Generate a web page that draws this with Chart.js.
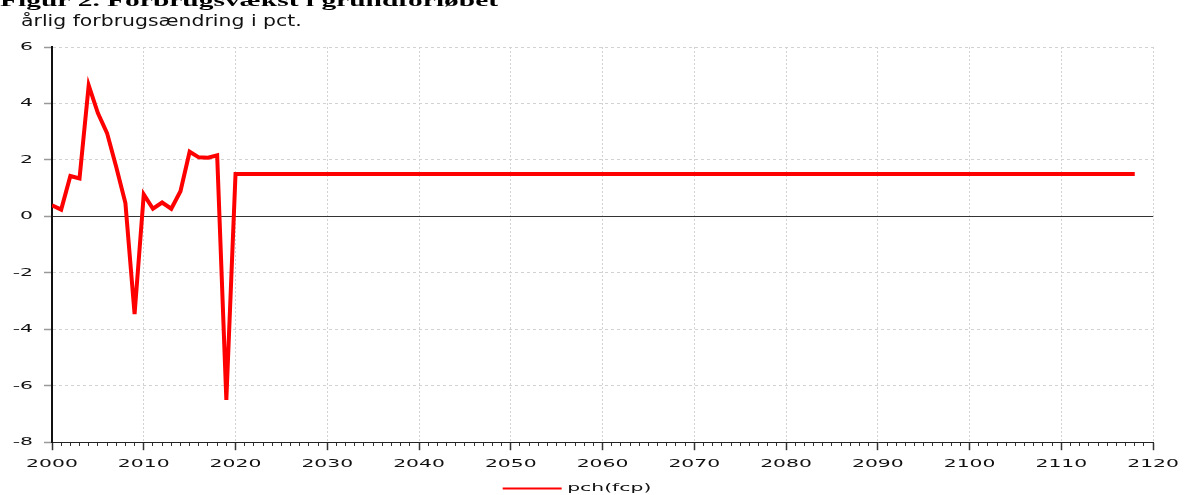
<!DOCTYPE html>
<html><head><meta charset="utf-8">
<script src="https://cdn.jsdelivr.net/npm/chart.js@4.4.1/dist/chart.umd.min.js"></script>
<style>html,body{margin:0;padding:0;background:#fff;overflow:hidden}canvas{display:block}</style>
</head><body>
<canvas id="c" width="1186" height="495" style="width:1186px;height:495px"></canvas>
<script>
const TITLE = 'Figur 2. Forbrugsvækst i grundforløbet';
const SUBTITLE = 'årlig forbrugsændring i pct.';
const SERIES_LABEL = 'pch(fcp)';

const years = [
  2000,2001,2002,2003,2004,2005,2006,2007,2008,2009,
  2010,2011,2012,2013,2014,2015,2016,2017,2018,2019,
  2020,2021,2022,2023,2024,2025,2026,2027,2028,2029,
  2030,2031,2032,2033,2034,2035,2036,2037,2038,2039,
  2040,2041,2042,2043,2044,2045,2046,2047,2048,2049,
  2050,2051,2052,2053,2054,2055,2056,2057,2058,2059,
  2060,2061,2062,2063,2064,2065,2066,2067,2068,2069,
  2070,2071,2072,2073,2074,2075,2076,2077,2078,2079,
  2080,2081,2082,2083,2084,2085,2086,2087,2088,2089,
  2090,2091,2092,2093,2094,2095,2096,2097,2098,2099,
  2100,2101,2102,2103,2104,2105,2106,2107,2108,2109,
  2110,2111,2112,2113,2114,2115,2116,2117,2118
];

const values = [
  0.39,0.24,1.43,1.34,4.64,3.66,2.95,1.75,0.47,-3.46,
  0.78,0.27,0.49,0.27,0.89,2.29,2.09,2.08,2.16,-6.5,
  1.5,
  1.5,1.5,1.5,1.5,1.5,1.5,1.5,1.5,1.5,1.5,1.5,1.5,1.5,1.5,
  1.5,1.5,1.5,1.5,1.5,1.5,1.5,1.5,1.5,1.5,1.5,1.5,1.5,1.5,
  1.5,1.5,1.5,1.5,1.5,1.5,1.5,1.5,1.5,1.5,1.5,1.5,1.5,1.5,
  1.5,1.5,1.5,1.5,1.5,1.5,1.5,1.5,1.5,1.5,1.5,1.5,1.5,1.5,
  1.5,1.5,1.5,1.5,1.5,1.5,1.5,1.5,1.5,1.5,1.5,1.5,1.5,1.5,
  1.5,1.5,1.5,1.5,1.5,1.5,1.5,1.5,1.5,1.5,1.5,1.5,1.5,1.5,
  1.5,1.5,1.5,1.5,1.5,1.5,1.5,1.5,1.5,1.5,1.5,1.5,1.5,1.5
];

const xTicks = [2000,2010,2020,2030,2040,2050,2060,2070,2080,2090,2100,2110,2120];
const yTicks = [-8,-6,-4,-2,0,2,4,6];

const canvas = document.getElementById('c');
const ctx = canvas.getContext('2d');

// The reference renders its sans-serif labels horizontally widened.
const TEXT_STRETCH = 1.85;
const origFill = ctx.fillText;
const origMeasure = ctx.measureText;
ctx.fillText = function (t, x, y) {
  this.save();
  this.translate(x, y);
  this.scale(TEXT_STRETCH, 1);
  origFill.call(this, t, 0, 0);
  this.restore();
};
ctx.measureText = function (t) {
  const m = origMeasure.call(this, t);
  return {
    width: m.width * TEXT_STRETCH,
    actualBoundingBoxLeft: m.actualBoundingBoxLeft * TEXT_STRETCH,
    actualBoundingBoxRight: m.actualBoundingBoxRight * TEXT_STRETCH,
    actualBoundingBoxAscent: m.actualBoundingBoxAscent,
    actualBoundingBoxDescent: m.actualBoundingBoxDescent,
    fontBoundingBoxAscent: m.fontBoundingBoxAscent,
    fontBoundingBoxDescent: m.fontBoundingBoxDescent
  };
};

const headerPlugin = {
  id: 'header',
  afterDraw(chart) {
    const c = chart.ctx;
    c.save();
    c.textAlign = 'left';
    c.textBaseline = 'alphabetic';
    c.fillStyle = '#000';
    c.font = 'bold 16px "Liberation Serif"';
    c.translate(0, 6);
    c.scale(1.84, 1);
    origFill.call(c, TITLE, 0, 0);
    c.restore();
    c.save();
    c.textAlign = 'left';
    c.textBaseline = 'alphabetic';
    c.fillStyle = '#111';
    c.font = '15px "DejaVu Sans"';
    c.translate(21, 26);
    c.scale(1.36, 1);
    origFill.call(c, SUBTITLE, 0, 0);
    c.restore();
  }
};

const tickFont = { family: 'DejaVu Sans', size: 11 };

new Chart(ctx, {
  type: 'line',
  data: {
    datasets: [{
      label: SERIES_LABEL,
      data: years.map((yr, i) => ({ x: yr, y: values[i] })),
      borderColor: '#ff0000',
      backgroundColor: '#ff0000',
      borderWidth: 4,
      pointRadius: 0,
      tension: 0,
      fill: false
    }]
  },
  options: {
    responsive: false,
    animation: false,
    events: [],
    layout: { padding: { top: 47, right: 32, bottom: -9, left: 0 } },
    scales: {
      x: {
        type: 'linear',
        position: 'bottom',
        min: 2000, max: 2120,
        afterBuildTicks: s => { s.ticks = xTicks.map(v => ({ value: v })); },
        afterFit: s => { s.height = 30.8; },
        ticks: { font: tickFont, color: '#111', padding: 7, maxRotation: 0, autoSkip: false,
                 callback: v => String(v) },
        grid: { color: '#d2d2d2', lineWidth: 1, tickLength: 8, tickColor: '#333', tickWidth: 1.5 },
        border: { display: true, color: '#222', width: 1, dash: [2, 2] }
      },
      xMinor: {
        type: 'linear',
        axis: 'x',
        position: { y: -8 },
        min: 2000, max: 2120,
        ticks: { display: false, stepSize: 1 },
        grid: { drawOnChartArea: false, tickLength: 4, tickColor: '#333', tickWidth: 1 },
        border: { display: false }
      },
      y: {
        type: 'linear',
        position: 'left',
        min: -8, max: 6,
        afterBuildTicks: s => { s.ticks = yTicks.map(v => ({ value: v })); },
        afterFit: s => { s.width = 52; },
        ticks: { font: tickFont, color: '#111', padding: 11, callback: v => String(v) },
        grid: {
          color: c => (c.tick && c.tick.value === 0) ? '#333333' : '#d2d2d2',
          lineWidth: 1, tickLength: 8, tickColor: '#999', tickWidth: 1.5
        },
        border: {
          display: true, color: '#111', width: 2,
          dash: c => (c.tick && c.tick.value === 0) ? [] : [3, 3]
        }
      }
    },
    plugins: {
      legend: {
        position: 'bottom',
        labels: {
          font: tickFont,
          color: '#111',
          boxWidth: 59,
          boxHeight: 2,
          padding: 10,
          generateLabels: chart => Chart.defaults.plugins.legend.labels.generateLabels(chart)
            .map(it => Object.assign(it, { lineWidth: 0, fillStyle: '#ff0000' }))
        }
      },
      title: { display: false },
      tooltip: { enabled: false }
    }
  },
  plugins: [headerPlugin]
});
</script>
</body></html>
